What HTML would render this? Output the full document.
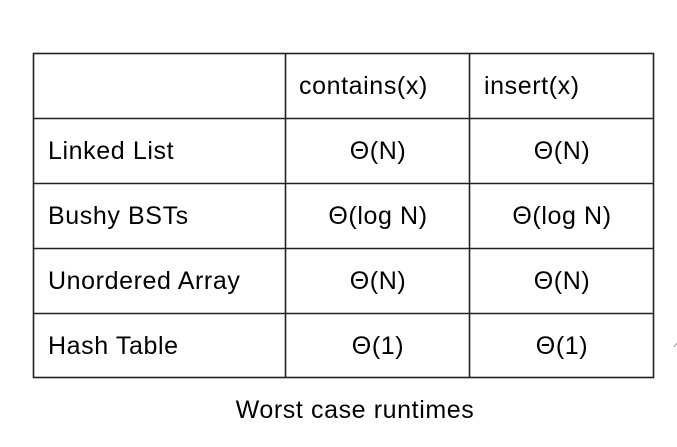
<!DOCTYPE html>
<html><head><style>html,body{margin:0;padding:0;background:#fff}svg{display:block}</style></head>
<body>
<svg width="677" height="447" viewBox="0 0 677 447" font-family="Liberation Sans, sans-serif" font-size="25" letter-spacing="0.6" fill="#000">
<g stroke="#222" stroke-width="1.6" fill="none">
<rect x="33.5" y="53.5" width="620" height="324"/>
<line x1="285.5" y1="53" x2="285.5" y2="378"/>
<line x1="469.5" y1="53" x2="469.5" y2="378"/>
<line x1="33" y1="118.5" x2="654" y2="118.5"/>
<line x1="33" y1="183.5" x2="654" y2="183.5"/>
<line x1="33" y1="248.5" x2="654" y2="248.5"/>
<line x1="33" y1="313.5" x2="654" y2="313.5"/>
</g>
<g dominant-baseline="central">
<text x="299" y="86">contains(x)</text>
<text x="484" y="86">insert(x)</text>
<text x="48" y="151">Linked List</text>
<text x="48" y="216">Bushy BSTs</text>
<text x="48" y="281">Unordered Array</text>
<text x="48" y="346">Hash Table</text>
</g>
<g dominant-baseline="central" text-anchor="middle">
<text x="378" y="151">Θ(N)</text><text x="562" y="151">Θ(N)</text>
<text x="378" y="216">Θ(log N)</text><text x="562" y="216">Θ(log N)</text>
<text x="378" y="281">Θ(N)</text><text x="562" y="281">Θ(N)</text>
<text x="378" y="346">Θ(1)</text><text x="562" y="346">Θ(1)</text>
<text x="355" y="410">Worst case runtimes</text>
</g>
<line x1="674" y1="347" x2="677" y2="343" stroke="#999" stroke-width="1"/>
</svg>
</body></html>
